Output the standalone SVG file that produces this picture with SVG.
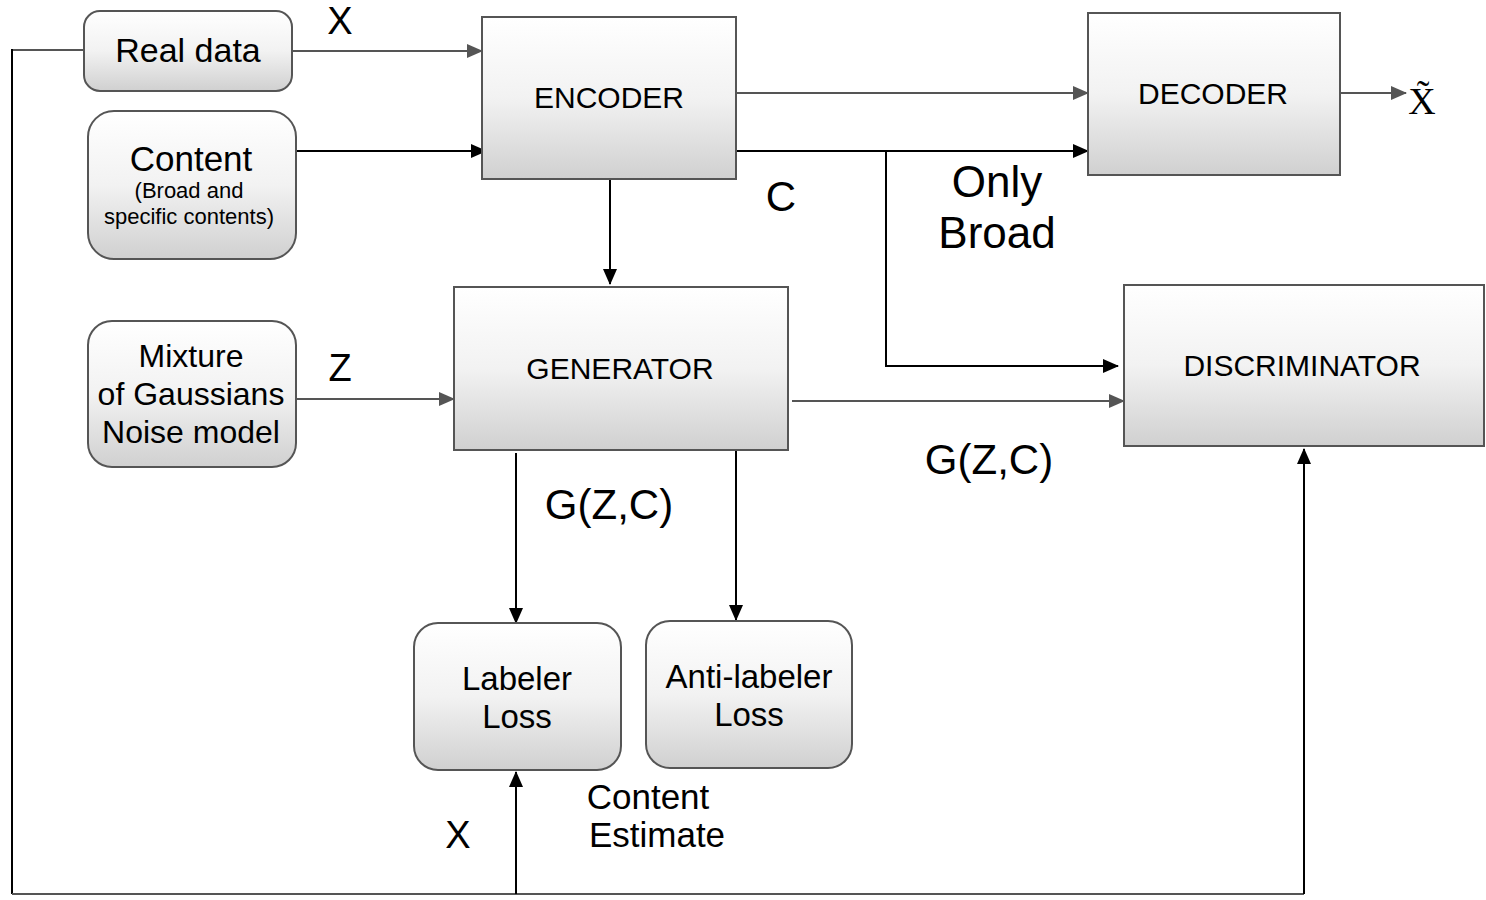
<svg xmlns="http://www.w3.org/2000/svg" width="1486" height="900" viewBox="0 0 1486 900">
<style>
.box{fill:url(#g);stroke:#555;stroke-width:2}
.t{font-family:"Liberation Sans",Arial,sans-serif;fill:#000;text-anchor:middle}
.gl{stroke:#555;stroke-width:2;fill:none}
.bl{stroke:#000;stroke-width:2;fill:none}
</style>
<defs>
<linearGradient id="g" x1="0" y1="0" x2="0" y2="1">
<stop offset="0" stop-color="#ffffff"/><stop offset="0.5" stop-color="#f2f2f2"/><stop offset="1" stop-color="#d0d0d0"/>
</linearGradient>
<marker id="ag" markerWidth="16" markerHeight="14" refX="15" refY="7" orient="auto" markerUnits="userSpaceOnUse"><path d="M0,0 L16,7 L0,14 z" fill="#555"/></marker>
<marker id="ab" markerWidth="16" markerHeight="14" refX="15" refY="7" orient="auto" markerUnits="userSpaceOnUse"><path d="M0,0 L16,7 L0,14 z" fill="#000"/></marker>
</defs>
<rect width="1486" height="900" fill="#fff"/>
<g id="connectors">
<path class="gl" d="M84,50 H12"/>
<path class="bl" d="M12,49 V894"/>
<path class="gl" d="M12,894 H1304"/>
<path class="bl" d="M1304,894 V449" marker-end="url(#ab)"/>
<path class="bl" d="M516,894 V772" marker-end="url(#ab)"/>
<path class="gl" d="M292,51 H482" marker-end="url(#ag)"/>
<path class="bl" d="M296,151 H486" marker-end="url(#ab)"/>
<path class="gl" d="M736,93 H1088" marker-end="url(#ag)"/>
<path class="bl" d="M736,151 H1088" marker-end="url(#ab)"/>
<path class="bl" d="M886,151 V366 H1118" marker-end="url(#ab)"/>
<path class="bl" d="M610,179 V284" marker-end="url(#ab)"/>
<path class="gl" d="M296,399 H454" marker-end="url(#ag)"/>
<path class="gl" d="M792,401 H1124" marker-end="url(#ag)"/>
<path class="bl" d="M516,453 V623" marker-end="url(#ab)"/>
<path class="bl" d="M736,449 V620" marker-end="url(#ab)"/>
<path class="gl" d="M1340,93 H1406" marker-end="url(#ag)"/>
</g>
<g id="realdata"><rect class="box" x="84" y="11" width="208" height="80" rx="16"/><text class="t" x="188" y="62" font-size="34">Real data</text></g>
<g id="content"><rect class="box" x="88" y="111" width="208" height="148" rx="26"/>
<text class="t" x="191" y="171" font-size="35">Content</text>
<text class="t" x="189" y="198" font-size="22">(Broad and</text>
<text class="t" x="189" y="224" font-size="22">specific contents)</text></g>
<g id="encoder"><rect class="box" x="482" y="17" width="254" height="162"/><text class="t" x="609" y="108" font-size="30">ENCODER</text></g>
<g id="decoder"><rect class="box" x="1088" y="13" width="252" height="162"/><text class="t" x="1213" y="104" font-size="30">DECODER</text></g>
<g id="mixture"><rect class="box" x="88" y="321" width="208" height="146" rx="24"/>
<text class="t" x="191" y="367" font-size="32">Mixture</text>
<text class="t" x="191" y="405" font-size="32">of Gaussians</text>
<text class="t" x="191" y="443" font-size="32">Noise model</text></g>
<g id="generator"><rect class="box" x="454" y="287" width="334" height="163"/><text class="t" x="620" y="379" font-size="30">GENERATOR</text></g>
<g id="discriminator"><rect class="box" x="1124" y="285" width="360" height="161"/><text class="t" x="1302" y="376" font-size="30">DISCRIMINATOR</text></g>
<g id="labeler"><rect class="box" x="414" y="623" width="207" height="147" rx="24"/>
<text class="t" x="517" y="690" font-size="33">Labeler</text>
<text class="t" x="517" y="728" font-size="33">Loss</text></g>
<g id="antilabeler"><rect class="box" x="646" y="621" width="206" height="147" rx="24"/>
<text class="t" x="749" y="688" font-size="33">Anti-labeler</text>
<text class="t" x="749" y="726" font-size="33">Loss</text></g>
<g id="labels">
<text class="t" x="340" y="34" font-size="38">X</text>
<text class="t" x="781" y="211" font-size="42">C</text>
<text class="t" x="997" y="197" font-size="44">Only</text>
<text class="t" x="997" y="248" font-size="44">Broad</text>
<text class="t" x="340" y="381" font-size="38">Z</text>
<text class="t" x="609" y="519" font-size="42">G(Z,C)</text>
<text class="t" x="989" y="474" font-size="42">G(Z,C)</text>
<text class="t" x="458" y="848" font-size="38">X</text>
<text class="t" x="648" y="809" font-size="35">Content</text>
<text class="t" x="657" y="847" font-size="35">Estimate</text>
<text x="1422" y="114" font-size="38" text-anchor="middle" font-family="'Liberation Serif',serif">X̃</text>
</g>
</svg>
